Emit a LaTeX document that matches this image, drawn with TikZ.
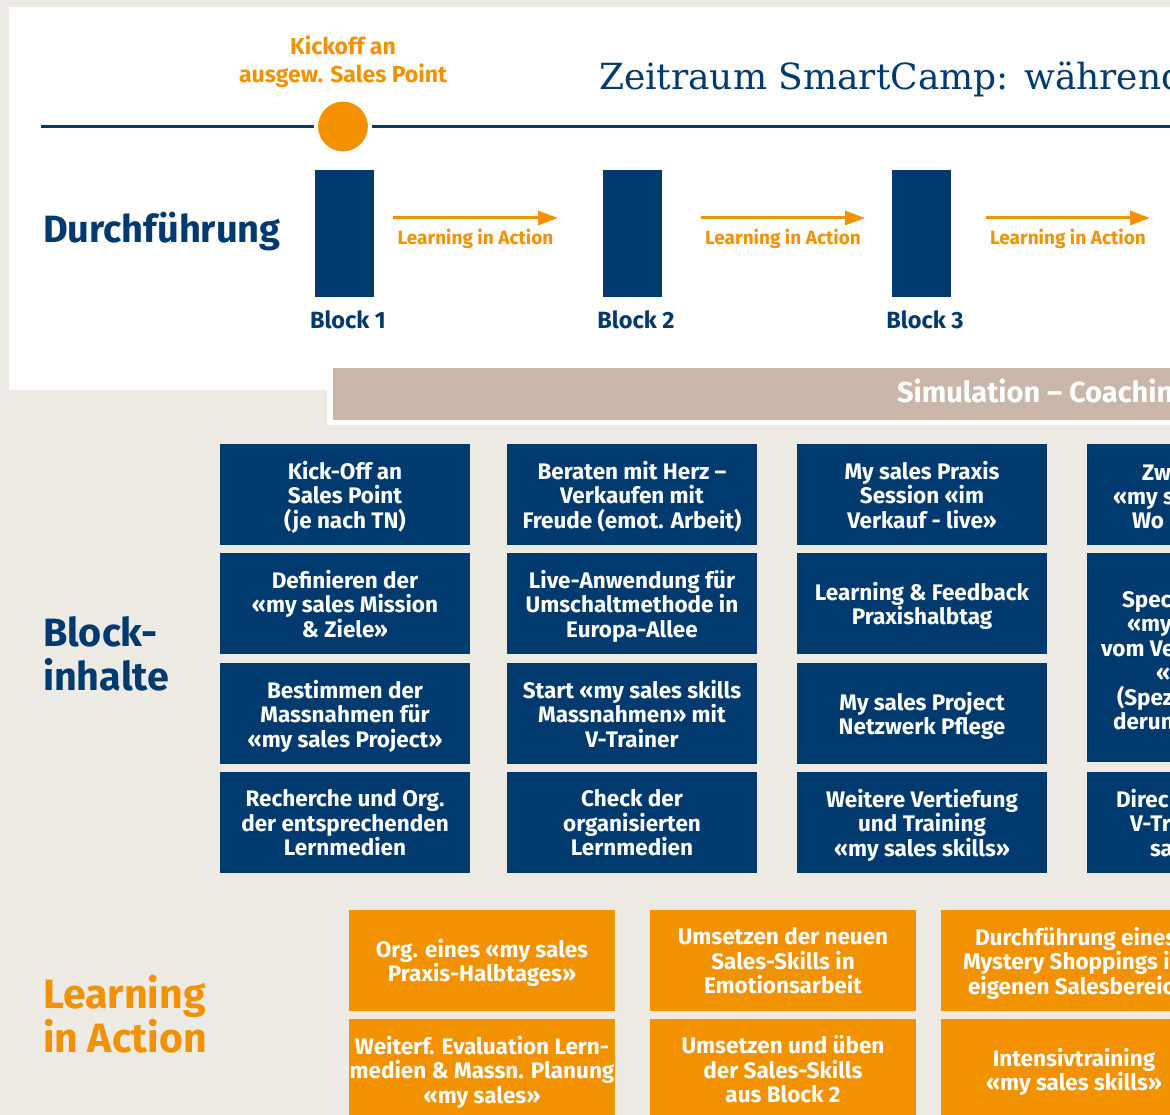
\documentclass[tikz,border=0pt]{standalone}
\usepackage{fontspec}
\setmainfont{Fira Sans}
\newfontfamily\zeitfont{DejaVu Serif}
\usepackage{tikz}
\usetikzlibrary{positioning,arrows.meta}
\definecolor{navy}{HTML}{003A6F}
\definecolor{sun}{HTML}{F29200}
\definecolor{sand}{HTML}{EEEAE4}
\definecolor{taupe}{HTML}{CAB7A9}
\tikzset{
    >={Triangle[length=20pt,width=14pt]},
    every node/.style={inner sep=0pt, outer sep=0pt},
    inhalt/.style={
        rectangle,
        fill=navy,
        text=white,
        minimum width=250pt,
        minimum height=101pt,
        text depth=0pt,
        align=center,
        anchor=north west,
        font={\fontsize{22.5}{24.5}\selectfont\bfseries}
    },
    praxis/.style={inhalt, fill=sun, minimum width=266pt},
    rest/.style={
        text=white,
        anchor=base west,
        font={\fontsize{22.5}{24.5}\selectfont\bfseries}
    },
    block/.style={
        rectangle,
        fill=navy,
        minimum width=59pt,
        minimum height=127pt,
        anchor=north west
    },
    blocklabel/.style={text=navy, anchor=base, font={\fontsize{23.5}{26}\selectfont\bfseries}},
    lia/.style={draw=sun, line width=3pt, ->},
    lialabel/.style={text=sun, anchor=base, font={\fontsize{19}{22}\selectfont\bfseries}},
    rubrik/.style={align=left, anchor=base west, font={\fontsize{39.5}{43.5}\selectfont\bfseries}},
    timeline/.style={draw=navy, line width=2.7pt},
    milestone/.style={circle, fill=sun, draw=white, line width=4pt, minimum size=54pt},
}

\begin{document}
\begin{tikzpicture}[x=1pt,y=-1pt]
\useasboundingbox (0,0) rectangle (1170,1115);
\clip (0,0) rectangle (1170,1115);
\fill[sand] (0,0) rectangle (1170,1115);
\fill[white] (9,7) rectangle (1180,390);
\fill[white] (327,380) rectangle (1180,425);
\fill[taupe] (333,368) rectangle (1180,420);
\node[anchor=base west, text=white, font={\fontsize{29}{32}\selectfont\bfseries}] (sim) at (897,402) {Simulation – Coachin};

% Zeitachse mit Kickoff
\node[anchor=base west, text=navy, font={\zeitfont\fontsize{36}{44}\selectfont}] (zeitraum) at (599,90) {Zeitraum SmartCamp: während};
\coordinate (tl-a) at (41,126.5);
\coordinate (tl-b) at (1180,126.5);
\draw[timeline] (tl-a) -- (tl-b);
\node[milestone] (kickoff) at (343,126.5) {};
\node[text=sun, align=center, anchor=base, font={\fontsize{23}{28}\selectfont\bfseries}] (kickoff-text) at (343,82.5) {Kickoff an\\ausgew. Sales Point};

\node[rubrik, text=navy, font={\fontsize{38}{43.5}\selectfont\bfseries}] (durchf) at (43,243) {Durchführung};
\foreach \x [count=\i] in {315,603,892} {
    \node[block] (b\i) at (\x,170) {};
    \node[blocklabel, xshift=3.5pt, yshift=-31pt] (b\i-label) at (b\i.south) {Block \i};
}
\foreach \xa/\xb [count=\i] in {393/558,701/865,986/1150} {
    \coordinate (lia\i-a) at (\xa,218);
    \coordinate (lia\i-b) at (\xb,218);
    \draw[lia] (lia\i-a) -- (lia\i-b) node[midway, lialabel, yshift=-27pt] (lia\i-text) {Learning in Action};
}

% Blockinhalte
\node[rubrik, text=navy] (inhalte) at (43,690) {Block-\\inhalte};
\foreach \x/\y/\txt [count=\i] in {
    220/444/{Kick-Off an\\Sales Point\\(je nach TN)},
    220/553/{Definieren der\\«my sales Mission\\\& Ziele»},
    220/663/{Bestimmen der\\Massnahmen für\\«my sales Project»},
    220/772/{Recherche und Org.\\der entsprechenden\\Lernmedien},
    507/444/{Beraten mit Herz –\\Verkaufen mit\\Freude (emot. Arbeit)},
    507/553/{Live-Anwendung für\\Umschaltmethode in\\Europa-Allee},
    507/663/{Start «my sales skills\\Massnahmen» mit\\V-Trainer},
    507/772/{Check der\\organisierten\\Lernmedien},
    797/444/{My sales Praxis\\Session «im\\Verkauf - live»},
    797/553/{Learning \& Feedback\\Praxishalbtag},
    797/663/{My sales Project\\Netzwerk Pflege},
    797/772/{Weitere Vertiefung\\und Training\\«my sales skills»}}
    \node[inhalt] (inh\i) at (\x,\y) {\txt};
\node[inhalt] (inh13) at (1087,444) {};
\node[inhalt, minimum height=209pt] (inh14) at (1087,553) {};
\node[inhalt] (inh15) at (1087,772) {};
\foreach \x/\y/\txt [count=\i] in {
    1142/480/Zw, 1113/504/{«my s}, 1132/528/Wo,
    1122/607/Spec, 1127/631/{«my}, 1101/656/{vom Ve}, 1156/680/{«},
    1117/705/{(Spez}, 1113/729/derun,
    1116/807/Direc, 1130/831/V-Tra, 1150/856/sa}
    \node[rest] (rest\i) at (\x,\y) {\txt};

% Learning in Action
\node[rubrik, text=sun, font={\fontsize{41}{44}\selectfont\bfseries}] (praxis) at (43,1052) {Learning\\in Action};
\foreach \x/\y/\txt [count=\i] in {
    349/910/{Org. eines «my sales\\Praxis-Halbtages»},
    349/1019/{Weiterf. Evaluation Lern-\\medien \& Massn. Planung\\«my sales»},
    650/910/{Umsetzen der neuen\\Sales-Skills in\\Emotionsarbeit},
    650/1019/{Umsetzen und üben\\der Sales-Skills\\aus Block 2},
    941/1019/{Intensivtraining\\«my sales skills»}}
    \node[praxis] (lia-box\i) at (\x,\y) {\txt};
\node[praxis] (lia-box6) at (941,910) {};
\foreach \x/\y/\txt [count=\i] in {
    975/945/{Durchführung eines}, 963/969/{Mystery Shoppings i}, 968/994/{eigenen Salesbereic}}
    \node[rest] (lia-rest\i) at (\x,\y) {\txt};
\end{tikzpicture}
\end{document}
